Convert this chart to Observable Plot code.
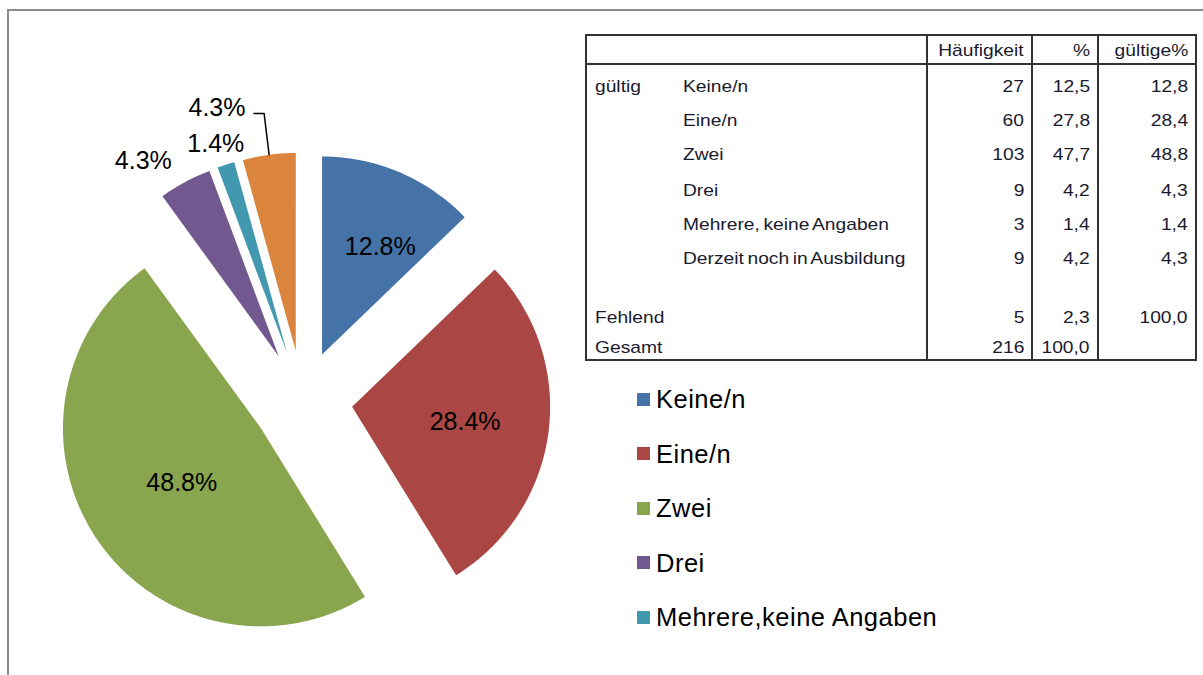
<!DOCTYPE html>
<html>
<head>
<meta charset="utf-8">
<script src="https://cdn.jsdelivr.net/npm/d3@7"></script>
<script src="https://cdn.jsdelivr.net/npm/@observablehq/plot@0.6"></script>
<style>
  html, body { margin: 0; padding: 0; background: #fff; width: 1203px; height: 675px; overflow: hidden; }
  #wrap { position: relative; width: 1203px; height: 675px; font-family: "Liberation Sans", Arial, sans-serif; }
  .abs { position: absolute; white-space: nowrap; }
  .tcell { font-size: 17px; line-height: 20px; color: #1a1a2e; word-spacing: -1.5px; }
  .leg { font-size: 25.5px; line-height: 30px; color: #000; letter-spacing: 0.5px; }
</style>
</head>
<body>
<div id="wrap"></div>
<script>
// ---------------- data ----------------
const categories = ["Keine/n", "Eine/n", "Zwei", "Drei", "Mehrere,keine Angaben", "Derzeit noch in Ausbildung"];
const validPercent = [12.8, 28.4, 48.8, 4.3, 1.4, 4.3];
const sliceColors = ["#4572A7", "#AA4643", "#89A54E", "#71588F", "#4198AF", "#DB843D"];

// frequency table
const tableGroup = ["gültig", "", "", "", "", "", "", "Fehlend", "Gesamt"];
const tableLabel = ["Keine/n", "Eine/n", "Zwei", "Drei", "Mehrere, keine Angaben", "Derzeit noch in Ausbildung", "", "", ""];
const tableFreq = ["27", "60", "103", "9", "3", "9", "", "5", "216"];
const tablePct = ["12,5", "27,8", "47,7", "4,2", "1,4", "4,2", "", "2,3", "100,0"];
const tableValidPct = ["12,8", "28,4", "48,8", "4,3", "1,4", "4,3", "", "100,0", ""];
const tableHeader = ["Häufigkeit", "%", "gültige%"];

// legend shows the first five entries (last one is cut off in the original)
const legendCount = 5;

// ---------------- layout ----------------
const W = 1203, H = 675;
const cx = 302, cy = 400, R = 198, explode = 50;
// label placement relative to each exploded slice's apex (angle in degrees clockwise from north, distance in px)
const labelLayout = [
  {ang: 28.5, r: 122}, {ang: 97.5, r: 114}, {ang: 235.6, r: 96},
  {ang: 325.3, r: 238}, {ang: 341.2, r: 221}, {ang: 342.0, r: 255}
];

const wrap = document.getElementById("wrap");
const rad = d => d * Math.PI / 180;
const polar = (x0, y0, r, a) => [x0 + r * Math.sin(a), y0 - r * Math.cos(a)];

const slices = categories.map((name, i) => ({name, value: validPercent[i], color: sliceColors[i]}));
const arcs = d3.pie().sort(null).value(d => d.value)(slices);

const polyRows = [];
const labels = [];
const leader = [];
arcs.forEach((a, i) => {
  const mid = (a.startAngle + a.endAngle) / 2;
  const [ax, ay] = polar(cx, cy, explode, mid);
  polyRows.push({name: a.data.name, x: ax, y: ay});
  const n = Math.max(4, Math.ceil((a.endAngle - a.startAngle) / rad(0.5)));
  for (let k = 0; k <= n; k++) {
    const t = a.startAngle + (a.endAngle - a.startAngle) * k / n;
    const [px, py] = polar(ax, ay, R, t);
    polyRows.push({name: a.data.name, x: px, y: py});
  }
  polyRows.push({name: a.data.name, x: ax, y: ay});
  const L = labelLayout[i];
  const [lx, ly] = polar(ax, ay, L.r, rad(L.ang));
  labels.push({x: lx, y: ly, text: a.data.value.toFixed(1) + "%"});
  if (i === arcs.length - 1) {
    const [ex, ey] = polar(ax, ay, R, mid);
    leader.push({x: lx + 37, y: ly + 5}, {x: ex - 5, y: ly + 5}, {x: ex, y: ey});
  }
});

const chart = Plot.plot({
  width: W, height: H, margin: 0,
  x: {domain: [0, W], range: [0, W], axis: null},
  y: {domain: [0, H], range: [0, H], axis: null},
  color: {domain: categories, range: sliceColors},
  style: {fontFamily: "Liberation Sans, Arial, sans-serif", background: "transparent"},
  marks: [
    Plot.line(polyRows, {x: "x", y: "y", z: "name", fill: "name", stroke: "none", curve: "linear"}),
    Plot.line(leader, {x: "x", y: "y", stroke: "#000", strokeWidth: 1.5, curve: "linear"}),
    Plot.text(labels, {x: "x", y: "y", text: "text", fontSize: 25, fill: "#000", textAnchor: "middle"})
  ]
});
chart.style.position = "absolute";
chart.style.left = "0px";
chart.style.top = "0px";
wrap.appendChild(chart);

function box(l, t, w, h, bg) {
  const d = document.createElement("div");
  d.className = "abs";
  Object.assign(d.style, {left: l + "px", top: t + "px", width: w + "px", height: h + "px", background: bg});
  wrap.appendChild(d);
  return d;
}
function txt(s, x, yc, cls, align) {
  const d = document.createElement("div");
  d.className = "abs " + cls;
  d.textContent = s;
  const lh = cls === "leg" ? 30 : 20;
  d.style.top = (yc - lh / 2) + "px";
  if (align === "right") d.style.right = (W - x) + "px"; else d.style.left = x + "px";
  if (cls === "tcell") {
    d.style.transform = "scaleX(1.13)";
    d.style.transformOrigin = align === "right" ? "right center" : "left center";
  }
  wrap.appendChild(d);
}

// outer frame
box(7, 9, W - 7, 2, "#8a8a8a");
box(7, 9, 2, H - 9, "#8a8a8a");

// table frame and grid
const tL = 585, tT = 34, tR = 1197, tB = 361;
box(tL, tT, tR - tL, 2, "#333");
box(tL, tB - 2, tR - tL, 2, "#333");
box(tL, tT, 2, tB - tT, "#333");
box(tR - 2, tT, 2, tB - tT, "#333");
box(tL, 63, tR - tL, 2, "#333");
[926, 1031, 1097].forEach(x => box(x, tT, 2, tB - tT, "#333"));

// table text
const colRight = [1024, 1090, 1188];
tableHeader.forEach((h, j) => txt(h, colRight[j], 51, "tcell", "right"));
const rowY = [87, 121, 155, 191, 225, 259, 288, 318, 348];
tableGroup.forEach((g, i) => {
  if (g) txt(g, 595, rowY[i], "tcell");
  if (tableLabel[i]) txt(tableLabel[i], 683, rowY[i], "tcell");
  if (tableFreq[i]) txt(tableFreq[i], colRight[0], rowY[i], "tcell", "right");
  if (tablePct[i]) txt(tablePct[i], colRight[1], rowY[i], "tcell", "right");
  if (tableValidPct[i]) txt(tableValidPct[i], colRight[2], rowY[i], "tcell", "right");
});

// legend
for (let i = 0; i < legendCount; i++) {
  const yc = 399 + 54.5 * i;
  box(637, yc - 6.5, 13, 13, sliceColors[i]);
  txt(categories[i], 656, yc, "leg");
}
</script>
</body>
</html>
